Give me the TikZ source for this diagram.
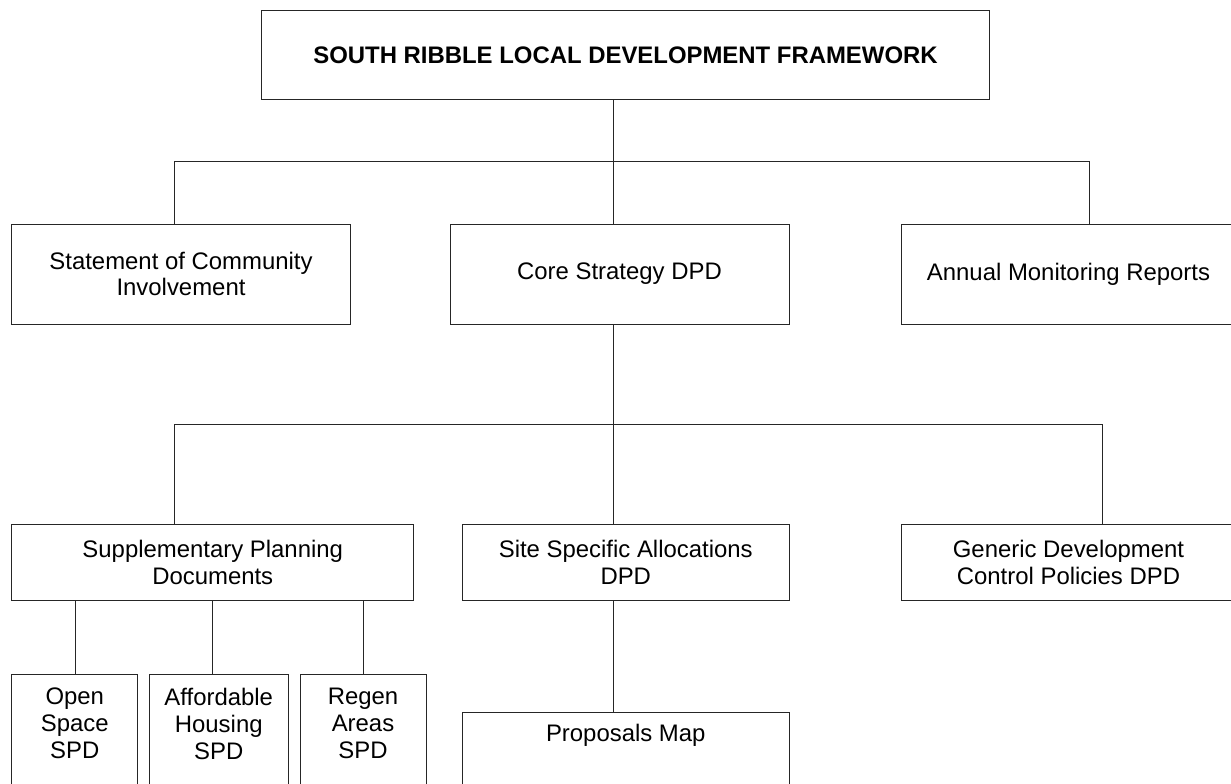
\documentclass[tikz,border=0pt]{standalone}
\usepackage{fontspec}
\setmainfont{Liberation Sans}
\begin{document}
\begin{tikzpicture}[x=1bp,y=-1bp,
  box/.style={draw=black!85, line width=1bp, rectangle, inner sep=0pt, align=center},
  link/.style={draw=black!85, line width=1bp},
  lbl/.style={inner sep=0pt, align=center},
  font=\fontsize{24}{27}\selectfont]
\useasboundingbox (0,0) rectangle (1231,784);
\clip (0,0) rectangle (1231,784);

% top level
\node[box, minimum width=727bp, minimum height=88bp, font=\fontsize{24}{27}\selectfont\bfseries]
  (title) at (625.5,55) {SOUTH RIBBLE LOCAL DEVELOPMENT FRAMEWORK};

% second level
\node[box, minimum width=338bp, minimum height=100bp] (sci) at (181,274)
  {Statement of Community\\Involvement};
\node[box, minimum width=339bp, minimum height=100bp] (core) at (619.5,274)
  {Core Strategy DPD};
\node[box, minimum width=335bp, minimum height=100bp] (amr) at (1068.5,274)
  {Annual Monitoring Reports};

% third level
\node[box, minimum width=401.5bp, minimum height=76bp] (spd) at (212.75,562)
  {Supplementary Planning\\Documents};
\node[box, minimum width=326.5bp, minimum height=76bp] (ssa) at (625.75,562)
  {Site Specific Allocations\\DPD};
\node[box, minimum width=335bp, minimum height=76bp] (gdc) at (1068.5,562)
  {Generic Development\\Control Policies DPD};

% fourth level (boxes run off the lower edge)
\node[box, minimum width=125.5bp, minimum height=130bp, anchor=north] (osp) at (74.75,674) {};
\node[box, minimum width=138.5bp, minimum height=130bp, anchor=north] (ahs) at (218.75,674) {};
\node[box, minimum width=126bp, minimum height=130bp, anchor=north] (rgn) at (363,674) {};
\node[box, minimum width=326.5bp, minimum height=100bp, anchor=north] (pmap) at (625.75,712) {};

\node[lbl, anchor=north] at ([yshift=-14pt]osp.north) {Open\\Space\\SPD};
\node[lbl, anchor=north] at ([yshift=-14pt]ahs.north) {Affordable\\Housing\\SPD};
\node[lbl, anchor=north] at ([yshift=-14pt]rgn.north) {Regen\\Areas\\SPD};
\node[lbl, anchor=north] at ([yshift=-12pt]pmap.north) {Proposals Map};

% junction points of the connectors
\coordinate (j1)  at (613,161);
\coordinate (j1l) at (174,161);
\coordinate (j1r) at (1089,161);
\coordinate (j2)  at (613,424);
\coordinate (j2l) at (174,424);
\coordinate (j2r) at (1102,424);
\coordinate (d1)  at (75,600);
\coordinate (d2)  at (212,600);
\coordinate (d3)  at (363,600);

% connectors
\draw[link] (j1 |- title.south) -- (j1 |- core.north);
\draw[link] (j1l |- sci.north) -- (j1l) -- (j1r) -- (j1r |- amr.north);
\draw[link] (j2 |- core.south) -- (j2 |- ssa.north);
\draw[link] (j2l |- spd.north) -- (j2l) -- (j2r) -- (j2r |- gdc.north);
\draw[link] (d1 |- spd.south) -- (d1 |- osp.north);
\draw[link] (d2 |- spd.south) -- (d2 |- ahs.north);
\draw[link] (d3 |- spd.south) -- (d3 |- rgn.north);
\draw[link] (j2 |- ssa.south) -- (j2 |- pmap.north);
\end{tikzpicture}
\end{document}
